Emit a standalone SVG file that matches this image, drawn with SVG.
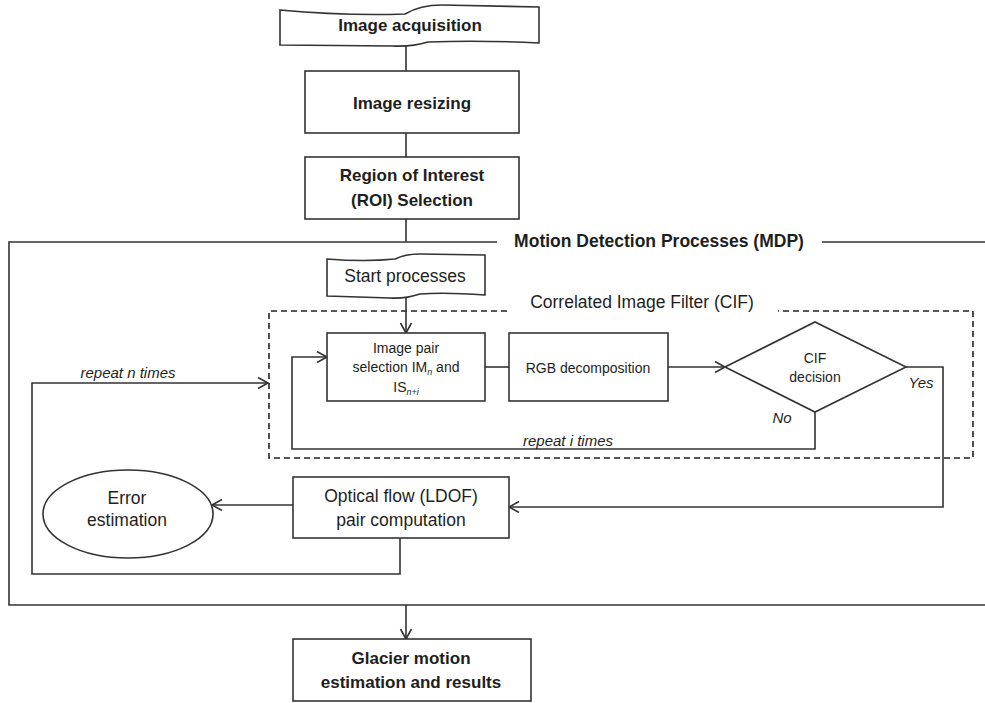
<svg xmlns="http://www.w3.org/2000/svg" width="985" height="703" viewBox="0 0 985 703">
<style>
.s{fill:#fff;stroke:#333;stroke-width:1.6}
.l{fill:none;stroke:#333;stroke-width:1.6}
.d{fill:none;stroke:#222;stroke-width:1.6;stroke-dasharray:6 4}
text{font-family:"Liberation Sans",Arial,sans-serif;fill:#1e1e1e;text-anchor:middle}
.b{font-weight:bold;font-size:17px}
.r{font-size:17.5px}
.m{font-size:14px}
.i{font-style:italic;font-size:15px}
</style>
<defs>
<marker id="a" markerUnits="userSpaceOnUse" markerWidth="14" markerHeight="14" refX="11" refY="6" orient="auto">
<path d="M1,0.5 L11,6 L1,11.5" fill="none" stroke="#333" stroke-width="1.6"/>
</marker>
</defs>
<g id="mdp">
<path class="l" d="M497,242 L9,242 L9,605 L985,605 M822,242 L985,242"/>
<text class="b" x="659" y="247" style="font-size:17.5px">Motion Detection Processes (MDP)</text>
</g>
<g id="cif">
<path class="d" d="M507,311 L269,311 L269,458 L973,458 L973,311 L778,311"/>
<text class="r" x="642" y="308">Correlated Image Filter (CIF)</text>
</g>
<g id="connectors">
<path class="l" d="M406,44 V71 M406,133 V157 M406,219 V242"/>
<path class="l" d="M406,295 V333" marker-end="url(#a)"/>
<path class="l" d="M485,367 H509"/>
<path class="l" d="M668,367 H725" marker-end="url(#a)"/>
<path class="l" d="M815,412 V449 H292 V357 H327" marker-end="url(#a)"/>
<path class="l" d="M906,367 H943 V507 H509" marker-end="url(#a)"/>
<path class="l" d="M293,505 H212" marker-end="url(#a)"/>
<path class="l" d="M400,538 V574 H32 V383 H268" marker-end="url(#a)"/>
<path class="l" d="M406,605 V639" marker-end="url(#a)"/>
<text class="i" x="128" y="378">repeat n times</text>
<text class="i" x="568" y="446">repeat i times</text>
<text class="i" x="921" y="388">Yes</text>
<text class="i" x="782" y="423">No</text>
</g>
<g id="acquisition">
<path class="s" d="M280,10 Q345,16 405,14 Q420,5 442,5 L539,7 L539,43 Q480,40 428,42 Q412,47 392,46 L280,45 Z"/>
<text class="b" x="410" y="31">Image acquisition</text>
</g>
<g id="resizing">
<rect class="s" x="305" y="71" width="214" height="62"/>
<text class="b" x="412" y="109">Image resizing</text>
</g>
<g id="roi">
<rect class="s" x="305" y="157" width="214" height="62"/>
<text class="b" x="412" y="181">Region of Interest</text>
<text class="b" x="412" y="206">(ROI) Selection</text>
</g>
<g id="start">
<path class="s" d="M327,259 Q365,262 395,259 Q405,254 420,254 L485,255 L485,295 Q445,292 420,294 Q405,299 390,298 L327,296 Z"/>
<text class="r" x="405" y="282">Start processes</text>
</g>
<g id="pair">
<rect class="s" x="327" y="333" width="158" height="68"/>
<text class="m" x="406" y="353">Image pair</text>
<text class="m" x="406" y="372">selection IM<tspan font-size="9" dy="3" font-style="italic">n</tspan><tspan dy="-3"> and</tspan></text>
<text class="m" x="406" y="392">IS<tspan font-size="9" dy="3" font-style="italic">n+i</tspan></text>
</g>
<g id="rgb">
<rect class="s" x="509" y="333" width="159" height="68"/>
<text class="m" x="588" y="373">RGB decomposition</text>
</g>
<g id="decision">
<polygon class="s" points="725,367 815,322 906,367 815,412"/>
<text class="m" x="815" y="363">CIF</text>
<text class="m" x="815" y="382">decision</text>
</g>
<g id="optical">
<rect class="s" x="293" y="477" width="216" height="61"/>
<text class="r" x="401" y="502">Optical flow (LDOF)</text>
<text class="r" x="401" y="526">pair computation</text>
</g>
<g id="error">
<ellipse class="s" cx="128" cy="514" rx="85" ry="44"/>
<text class="r" x="127" y="504">Error</text>
<text class="r" x="127" y="526">estimation</text>
</g>
<g id="glacier">
<rect class="s" x="293" y="639" width="238" height="62"/>
<text class="b" x="411" y="664">Glacier motion</text>
<text class="b" x="411" y="688">estimation and results</text>
</g>
</svg>
